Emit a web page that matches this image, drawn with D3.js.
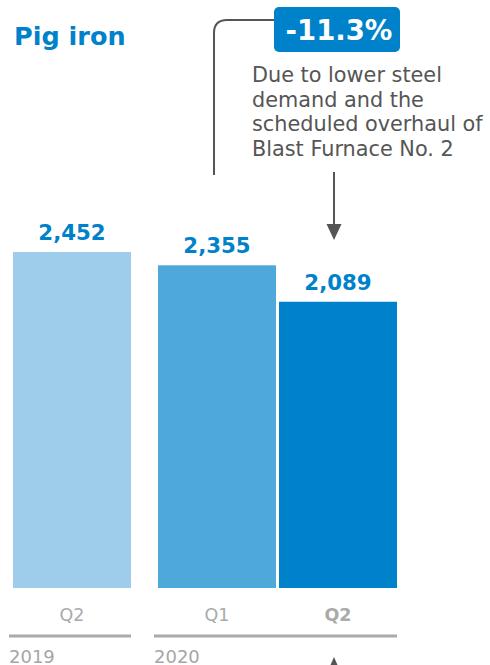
<!DOCTYPE html>
<html>
<head>
<meta charset="utf-8">
<script src="https://cdn.jsdelivr.net/npm/d3@7"></script>
<style>
  body { margin: 0; background: #fff; }
  svg { font-family: "DejaVu Sans", Verdana, sans-serif; display: block; }
</style>
</head>
<body>
<svg id="chart" width="490" height="665"></svg>
<script>
const years = ['2019', '2020', '2020'];
const quarters = ['Q2', 'Q1', 'Q2'];
const values = [2452, 2355, 2089];
const barColors = ['#9dcdea', '#4fa8da', '#0082ca'];
const changeLabel = '-11.3%';
const noteLines = ['Due to lower steel', 'demand and the', 'scheduled overhaul of', 'Blast Furnace No. 2'];

const blue = '#0082ca';
const grey = '#aaaaaa';
const dark = '#555555';

const svg = d3.select('#chart');
const keys = quarters.map((q, i) => years[i] + ' ' + q);
const yearGap = 24;

const xBand = d3.scaleBand().domain(keys).range([13, 373]).paddingInner(3 / 121).paddingOuter(0);
const xPos = (i) => xBand(keys[i]) + (years[i] !== years[0] ? yearGap : 0);
const y = d3.scaleLinear().domain([0, d3.max(values)]).range([588, 252]);

// title
svg.append('text')
  .attr('x', 14).attr('y', 45)
  .attr('fill', blue).attr('font-weight', 'bold').attr('font-size', 25.5)
  .text('Pig iron');

// bars
svg.selectAll('rect.bar')
  .data(values)
  .enter()
  .append('rect')
  .attr('class', 'bar')
  .attr('x', (d, i) => xPos(i))
  .attr('y', (d) => y(d))
  .attr('width', xBand.bandwidth())
  .attr('height', (d) => y(0) - y(d))
  .attr('fill', (d, i) => barColors[i]);

// value labels
svg.selectAll('text.value')
  .data(values)
  .enter()
  .append('text')
  .attr('class', 'value')
  .attr('x', (d, i) => xPos(i) + xBand.bandwidth() / 2)
  .attr('y', (d) => y(d) - 12)
  .attr('text-anchor', 'middle')
  .attr('fill', blue).attr('font-weight', 'bold').attr('font-size', 21.3)
  .text((d) => d3.format(',')(d));

// quarter labels
svg.selectAll('text.quarter')
  .data(quarters)
  .enter()
  .append('text')
  .attr('class', 'quarter')
  .attr('x', (d, i) => xPos(i) + xBand.bandwidth() / 2)
  .attr('y', 621)
  .attr('text-anchor', 'middle')
  .attr('fill', grey).attr('font-size', 17.5)
  .attr('font-weight', (d, i) => (i === quarters.length - 1 ? 'bold' : 'normal'))
  .text((d) => d);

// year underlines and labels
const yearGroups = d3.groups(d3.range(values.length), (i) => years[i]);
yearGroups.forEach(([year, idx]) => {
  const x0 = xPos(idx[0]) - 4;
  const x1 = xPos(idx[idx.length - 1]) + xBand.bandwidth();
  svg.append('line')
    .attr('x1', x0).attr('x2', x1)
    .attr('y1', 636).attr('y2', 636)
    .attr('stroke', grey).attr('stroke-width', 3);
  svg.append('text')
    .attr('x', x0).attr('y', 663)
    .attr('fill', '#a6a6a6').attr('font-size', 18)
    .text(year);
});

// annotation
const last = values.length - 1;
const prevX = xPos(last - 1) + xBand.bandwidth() / 2 - 3;
const lastX = xPos(last) + xBand.bandwidth() / 2 - 4;

svg.append('path')
  .attr('d', `M${prevX},175 L${prevX},33 Q${prevX},20 ${prevX + 13},20 L276,20`)
  .attr('fill', 'none').attr('stroke', dark).attr('stroke-width', 2);

svg.append('rect')
  .attr('x', 274).attr('y', 7)
  .attr('width', 126).attr('height', 45)
  .attr('rx', 5)
  .attr('fill', blue);
svg.append('text')
  .attr('x', 339).attr('y', 40)
  .attr('text-anchor', 'middle')
  .attr('fill', '#fff').attr('font-weight', 'bold').attr('font-size', 27.5)
  .text(changeLabel);

svg.selectAll('text.note')
  .data(noteLines)
  .enter()
  .append('text')
  .attr('class', 'note')
  .attr('x', 252)
  .attr('y', (d, i) => 82 + i * 24.7)
  .attr('fill', dark).attr('font-size', 20.8)
  .text((d) => d);

// arrow down to last bar
svg.append('line')
  .attr('x1', lastX).attr('x2', lastX)
  .attr('y1', 172).attr('y2', 226)
  .attr('stroke', dark).attr('stroke-width', 2);
svg.append('path')
  .attr('d', `M${lastX - 7.5},224 L${lastX + 7.5},224 L${lastX},240 Z`)
  .attr('fill', dark);

// small marker below the axis
svg.append('path')
  .attr('d', `M${lastX - 3.5},665 L${lastX + 3.5},665 L${lastX},657 Z`)
  .attr('fill', dark);
</script>
</body>
</html>
